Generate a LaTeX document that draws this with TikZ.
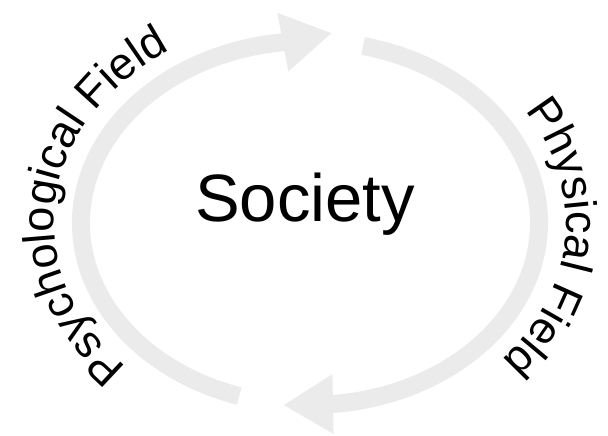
\documentclass[tikz,border=0pt]{standalone}
\usepackage{fontspec}
\usepackage{tikz}
\usetikzlibrary{arrows.meta,decorations.text}
\setmainfont{Liberation Sans}
\definecolor{ringgray}{RGB}{235,235,235}
\newcommand{\fieldfont}{\fontsize{45}{54}\selectfont}

\begin{document}
\begin{tikzpicture}[x=1pt,y=1pt,
    ring/.style={line width=18pt,color=ringgray},
    tip/.style={-{Triangle[length=50pt,width=56pt]}},
    fieldtext/.style={decorate,decoration={text along path,text align=left,
      text={|\fieldfont|#1}}}]
  \useasboundingbox (0,0) rectangle (608,436);
  \coordinate (hub) at (310,213);
  \coordinate (psytip) at (332,403);
  \coordinate (phytip) at (283,31);
  \node[anchor=base] (society) at (305,214){\fontsize{67}{80}\selectfont Society};
  % the two arrows round the centre
  \draw[ring,tip] (hub) ++(252:229 and 182)
    arc[start angle=252,end angle=97,x radius=229,y radius=182] -- (psytip);
  \draw[ring,tip] (hub) ++(76.6:229 and 182)
    arc[start angle=76.6,end angle=-84.4,x radius=229,y radius=182] -- (phytip);
  % labels along the outside
  \path[fieldtext={Psychological Field}] (hub) ++(224.3:256 and 206)
    arc[start angle=224.3,end angle=80,x radius=256,y radius=206];
  \path[fieldtext={Physical Field}] (hub) ++(33:256 and 206)
    arc[start angle=33,end angle=-85,x radius=256,y radius=206];
\end{tikzpicture}
\end{document}
